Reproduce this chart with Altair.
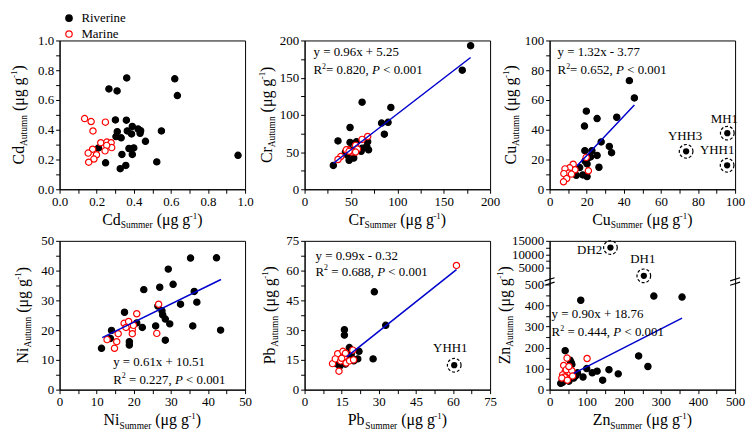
import json
import altair as alt
import pandas as pd

# ---------------- data ----------------
TYPES = ["Riverine", "Marine"]

CD_RIV_X = [0.362, 0.621, 0.635, 0.266, 0.310, 0.301, 0.360, 0.311, 0.365, 0.392, 0.423, 0.437, 0.434, 0.388,
            0.304, 0.332, 0.463, 0.549, 0.374, 0.400, 0.336, 0.392, 0.210, 0.248, 0.327, 0.357, 0.524, 0.962]
CD_RIV_Y = [0.748, 0.742, 0.630, 0.674, 0.661, 0.466, 0.464, 0.387, 0.392, 0.422, 0.405, 0.394, 0.376, 0.372,
            0.354, 0.346, 0.322, 0.392, 0.274, 0.278, 0.234, 0.234, 0.278, 0.178, 0.138, 0.160, 0.184, 0.228]
CD_MAR_X = [0.135, 0.170, 0.180, 0.247, 0.222, 0.255, 0.278, 0.281, 0.178, 0.154, 0.199, 0.185, 0.157, 0.254, 0.245]
CD_MAR_Y = [0.475, 0.455, 0.392, 0.451, 0.313, 0.317, 0.313, 0.280, 0.269, 0.243, 0.232, 0.203, 0.182, 0.295, 0.258]

CR_RIV_X = [179, 170, 62, 93, 83, 90, 86, 49, 36, 31, 49, 56, 68, 67, 62, 69, 54, 49, 46, 48, 53, 61, 44]
CR_RIV_Y = [193, 160, 117, 110, 89, 90, 74, 83, 65, 32, 63, 64, 64, 58, 55, 53, 53, 53, 46, 39, 42, 51, 50]
CR_MAR_X = [68, 62, 55, 57, 51, 47, 45, 39, 36, 48, 55]
CR_MAR_Y = [71, 67, 59, 54, 50, 53, 53, 44, 40, 51, 50]
CR_LINE_X = [31, 179]
CR_LINE_Y = [35.0, 177.1]

CU_RIV_X = [43.0, 45.7, 36.2, 25.6, 19.8, 18.8, 27.8, 32.2, 33.4, 19.0, 22.8, 25.6, 26.6, 22.1, 20.2, 19.1,
            16.2, 17.9, 20.2, 14.4, 21.2]
CU_RIV_Y = [73.0, 61.4, 48.4, 47.5, 52.5, 42.5, 31.8, 28.8, 24.6, 25.9, 25.9, 22.7, 14.8, 21.8, 17.0, 19.0,
            14.6, 9.6, 8.5, 9.4, 21.4]
CU_MAR_X = [19.7, 20.9, 12.7, 13.7, 10.8, 8.3, 10.4, 7.7, 9.2, 7.5, 11.8]
CU_MAR_Y = [21.4, 12.4, 16.8, 13.1, 14.4, 13.7, 10.9, 10.5, 7.2, 5.0, 10.2]
CU_OUT_X = [73.6, 95.8, 95.7]
CU_OUT_Y = [25.5, 37.7, 16.1]
CU_OUT_LAB = ["YHH3", "MH1", "YHH1"]
CU_LINE_X = [14.8, 45.7]
CU_LINE_Y = [15.8, 56.6]

NI_RIV_X = [11.3, 14.0, 13.7, 17.5, 18.8, 18.8, 20.8, 22.3, 22.7, 25.9, 26.5, 27.6, 27.8, 28.5, 28.5, 29.3,
            29.7, 27.0, 30.6, 32.6, 36.3, 37.0, 35.3, 42.3, 35.9, 43.4]
NI_RIV_Y = [13.9, 19.9, 17.2, 26.0, 15.0, 16.1, 22.4, 20.9, 33.6, 21.4, 28.1, 26.5, 25.1, 23.7, 16.6, 40.5,
            22.1, 34.4, 35.4, 28.7, 33.0, 29.4, 44.2, 44.3, 21.4, 20.0]
NI_MAR_X = [12.8, 14.8, 15.4, 15.8, 17.4, 17.9, 18.6, 19.6, 19.6, 19.9, 20.8, 26.7, 26.2]
NI_MAR_Y = [16.8, 13.9, 16.1, 18.8, 22.3, 20.9, 22.9, 20.1, 18.8, 21.6, 25.5, 28.7, 18.9]
NI_LINE_X = [11.5, 43.5]
NI_LINE_Y = [17.5, 37.0]

PB_RIV_X = [27.7, 28.2, 32.8, 16.1, 16.1, 18.1, 22.0, 21.5, 19.1, 16.5, 14.2, 12.6, 17.2, 18.9, 19.9]
PB_RIV_Y = [15.5, 49.3, 32.4, 30.2, 27.5, 21.2, 19.3, 15.5, 16.0, 12.9, 11.8, 13.1, 16.5, 18.3, 14.5]
PB_MAR_X = [61.4, 19.5, 11.3, 13.4, 12.4, 15.5, 16.0, 14.6, 16.5, 16.8, 13.9, 18.2, 19.8, 15.0]
PB_MAR_Y = [62.6, 19.9, 13.1, 18.1, 15.5, 19.3, 16.5, 14.5, 18.3, 13.4, 9.3, 14.5, 15.0, 15.8]
PB_OUT_X = [60.5]
PB_OUT_Y = [12.3]
PB_OUT_LAB = ["YHH1"]
PB_LINE_X = [17.0, 61.4]
PB_LINE_Y = [16.5, 60.5]

ZN_RIV_X = [84, 281, 357, 42, 55, 240, 265, 160, 128, 100, 115, 143, 185, 75, 60, 48, 35, 30, 45, 52, 58, 65,
            40, 70, 90]
ZN_RIV_Y = [425, 445, 440, 185, 140, 160, 110, 95, 88, 100, 80, 45, 75, 80, 120, 60, 35, 30, 50, 40, 130, 55,
            70, 65, 60]
ZN_MAR_X = [101, 47, 38, 42, 35, 50, 55, 40, 45, 60, 33, 48, 52, 62]
ZN_MAR_Y = [148, 150, 115, 85, 70, 75, 80, 60, 95, 90, 55, 45, 110, 65]
ZN_OUT_X = [164, 254]
ZN_OUT_Y = [12500, 2000]
ZN_OUT_LAB = ["DH2", "DH1"]
ZN_LINE_X = [65, 357]
ZN_LINE_Y = [77, 340]

# ---------------- styling / layout ----------------
FONT = "Liberation Serif"
PW, PH = 187, 150
ONE = pd.DataFrame({"k": [0]})

WID = {' ': 250, '(': 333, ')': 333, 'μ': 500, 'g': 500, '-': 333, '.': 250, ',': 250, '=': 564, '<': 564,
       '+': 564, 'x': 500, 'y': 500, 'R': 667, 'P': 611, 'C': 667, 'd': 500, 'r': 333, 'u': 500, 'N': 722,
       'i': 278, 'b': 500, 'Z': 611, 'n': 500, 'A': 722, 't': 278, 'm': 778, 'S': 556, 'e': 444}


def tw(s, fs):
    return sum(WID.get(c, 500) for c in s) * fs / 1000.0


def rich(pieces, x0, y0, angle=0, center=False):
    total = sum(tw(p[0], p[1]) for p in pieces)
    pos = -total / 2 if center else 0.0
    out = []
    for t, fs, sh, it in pieces:
        lead = len(t) - len(t.lstrip(' '))
        p0 = pos + tw(t[:lead], fs)
        s = t.strip(' ')
        if s:
            if angle == 0:
                x, y = x0 + p0, y0 + sh
            else:
                x, y = x0 + sh, y0 - p0
            mk = dict(align='left', baseline='alphabetic', font=FONT, fontSize=fs, color='black',
                      fontStyle='italic' if it else 'normal')
            if angle:
                mk['angle'] = angle
            out.append(alt.Chart(ONE).mark_text(**mk).encode(
                x=alt.value(x), y=alt.value(y), text=alt.value(s)))
        pos += tw(t, fs)
    return out


def title_pieces(el, season):
    return [(el, 16, 0, False), (season, 9.5, 3.5, False), (" (μg g", 16, 0, False),
            ("-1", 9, -6.5, False), (")", 16, 0, False)]


def eq_pieces(r2, space=True):
    return [("R", 13, 0, False), ("2", 8, -5.5, False), ((" = " if space else "= ") + r2 + ", ", 13, 0, False),
            ("P", 13, 0, True), (" < 0.001", 13, 0, False)]


def mkaxis(ticks, major, fmt):
    return alt.Axis(values=ticks, format=fmt, title=None, labelFont=FONT, labelFontSize=13,
                    labelExpr="indexof(%s, datum.value) >= 0 ? datum.label : ''" % json.dumps(major))


def panel(el, rx, ry, mx, my, xdom, ydom, xt, xmaj, yt, ymaj, fmt, eq1, eq2, eqpos, yoff,
          line=None, out=None, yrange=None, legend=False, breaks=False):
    xsc = alt.Scale(domain=xdom, nice=False, zero=False)
    if yrange:
        ysc = alt.Scale(domain=ydom, range=yrange, nice=False, zero=False)
    else:
        ysc = alt.Scale(domain=ydom, nice=False, zero=False)
    xenc = alt.X('x:Q', scale=xsc, axis=mkaxis(xt, xmaj, fmt))
    yenc = alt.Y('y:Q', scale=ysc, axis=mkaxis(yt, ymaj, fmt))

    df = pd.DataFrame({'x': list(rx) + list(mx), 'y': list(ry) + list(my),
                       'type': ['Riverine'] * len(rx) + ['Marine'] * len(mx)})
    if legend:
        leg = alt.Legend(orient='none', legendX=3, legendY=-29, title=None, padding=0, rowPadding=2,
                         labelFont=FONT, labelFontSize=13, labelOffset=6, labelColor='black',
                         symbolType='circle', symbolSize=42, symbolStrokeWidth=1.2)
    else:
        leg = None
    layers = [alt.Chart(df).mark_point(shape='circle', size=40, strokeWidth=1.2, opacity=1, filled=True).encode(
        x=xenc, y=yenc,
        fill=alt.Fill('type:N', scale=alt.Scale(domain=TYPES, range=['black', 'white']), legend=leg),
        stroke=alt.Stroke('type:N', scale=alt.Scale(domain=TYPES, range=['black', 'red']), legend=leg),
    )]
    if line:
        ldf = pd.DataFrame({'x': line[0], 'y': line[1]})
        layers.append(alt.Chart(ldf).mark_line(color='#0000cd', strokeWidth=1.5).encode(x=xenc, y=yenc))
    if out:
        odf = pd.DataFrame({'x': out[0], 'y': out[1], 'lab': out[2]})
        layers.append(alt.Chart(odf).mark_point(shape='circle', size=40, filled=True, color='black',
                                                opacity=1).encode(x=xenc, y=yenc))
        layers.append(alt.Chart(odf).mark_point(shape='circle', size=190, filled=False, color='black',
                                                strokeWidth=1.2, strokeDash=[3, 2], opacity=1).encode(
            x=xenc, y=yenc))
        for i, (dx, dy) in enumerate(out[3]):
            sdf = odf.iloc[[i]]
            layers.append(alt.Chart(sdf).mark_text(font=FONT, fontSize=13, color='black', align='center',
                                                   baseline='alphabetic', dx=dx, dy=dy).encode(
                x=xenc, y=yenc, text='lab:N'))
    # equation text
    if eq1:
        layers += rich([(eq1, 13, 0, False)], eqpos[0], eqpos[1])
        layers += rich(eq2, eqpos[0], eqpos[2])
    # axis titles
    layers += rich(title_pieces(el, "Summer"), PW / 2, PH + 36, 0, center=True)
    layers += rich(title_pieces(el, "Autumn"), -yoff, PH / 2, 270, center=True)
    if breaks:
        for xc in [0, PW]:
            for d in [-2.2, 2.2]:
                layers.append(alt.Chart(ONE).mark_rule(color='black', strokeWidth=1.2).encode(
                    x=alt.value(xc - 5), x2=alt.value(xc + 5), y=alt.value(41 + d + 1.6),
                    y2=alt.value(41 + d - 1.6)))
    return alt.layer(*layers).properties(width=PW, height=PH)


def rng(a, b, s):
    n = int(round((b - a) / s))
    return [round(a + i * s, 2) for i in range(n + 1)]


p_cd = panel('Cd', CD_RIV_X, CD_RIV_Y, CD_MAR_X, CD_MAR_Y, [0, 1], [0, 1],
             rng(0, 1, 0.1), rng(0, 1, 0.2), rng(0, 1, 0.1), rng(0, 1, 0.2), '.1f',
             None, None, None, 36, legend=True)
p_cr = panel('Cr', CR_RIV_X, CR_RIV_Y, CR_MAR_X, CR_MAR_Y, [0, 200], [0, 200],
             rng(0, 200, 25), rng(0, 200, 50), rng(0, 200, 25), rng(0, 200, 50), 'd',
             "y = 0.96x + 5.25", eq_pieces("0.820", False), (9, 16, 34), 33,
             line=(CR_LINE_X, CR_LINE_Y))
p_cu = panel('Cu', CU_RIV_X, CU_RIV_Y, CU_MAR_X, CU_MAR_Y, [0, 100], [0, 100],
             rng(0, 100, 10), rng(0, 100, 20), rng(0, 100, 10), rng(0, 100, 20), 'd',
             "y = 1.32x - 3.77", eq_pieces("0.652", False), (8, 16, 34), 34,
             line=(CU_LINE_X, CU_LINE_Y),
             out=(CU_OUT_X, CU_OUT_Y, CU_OUT_LAB, [(-1, -11), (-3, -10), (-10, -11)]))
p_ni = panel('Ni', NI_RIV_X, NI_RIV_Y, NI_MAR_X, NI_MAR_Y, [0, 50], [0, 50],
             rng(0, 50, 5), rng(0, 50, 10), rng(0, 50, 5), rng(0, 50, 10), 'd',
             "y = 0.61x + 10.51", eq_pieces("0.227"), (54, 126, 144), 32,
             line=(NI_LINE_X, NI_LINE_Y))
p_pb = panel('Pb', PB_RIV_X, PB_RIV_Y, PB_MAR_X, PB_MAR_Y, [0, 75], [0, 75],
             rng(0, 75, 7.5), rng(0, 75, 15), rng(0, 75, 7.5), rng(0, 75, 15), 'd',
             "y = 0.99x - 0.32", eq_pieces("0.688"), (11, 19, 35), 30,
             line=(PB_LINE_X, PB_LINE_Y),
             out=(PB_OUT_X, PB_OUT_Y, PB_OUT_LAB, [(-4, -13)]))
p_zn = panel('Zn', ZN_RIV_X, ZN_RIV_Y, ZN_MAR_X, ZN_MAR_Y, [0, 500], [0, 500, 1000, 15000],
             rng(0, 500, 50), rng(0, 500, 100), rng(0, 500, 50) + [5000, 7500, 10000, 12500, 15000],
             rng(0, 500, 100) + [5000, 10000, 15000], 'd',
             "y = 0.90x + 18.76", eq_pieces("0.444"), (2, 78, 96), 40,
             line=(ZN_LINE_X, ZN_LINE_Y),
             out=(ZN_OUT_X, ZN_OUT_Y, ZN_OUT_LAB, [(-21, 6), (-1, -13)]),
             yrange=[PH, 44, 38, 0], breaks=True)

chart = alt.concat(p_cd, p_cr, p_cu, p_ni, p_pb, p_zn, columns=3,
                   spacing={"row": 52, "column": 60}, bounds='flush').resolve_scale(
    fill='independent', stroke='independent').resolve_legend(
    fill='independent', stroke='independent').properties(padding=1).configure(
    font=FONT).configure_view(
    stroke='black', strokeWidth=1).configure_axis(
    grid=False, domainColor='black', domainWidth=1, tickColor='black', tickWidth=1, tickSize=4,
    labelColor='black', labelFont=FONT, labelFontSize=13, labelPadding=2, labelFlush=False,
    labelOverlap=False).configure_text(font=FONT).configure_legend(labelFont=FONT)

chart.save("out.html", embed_options={"renderer": "svg", "actions": False})
